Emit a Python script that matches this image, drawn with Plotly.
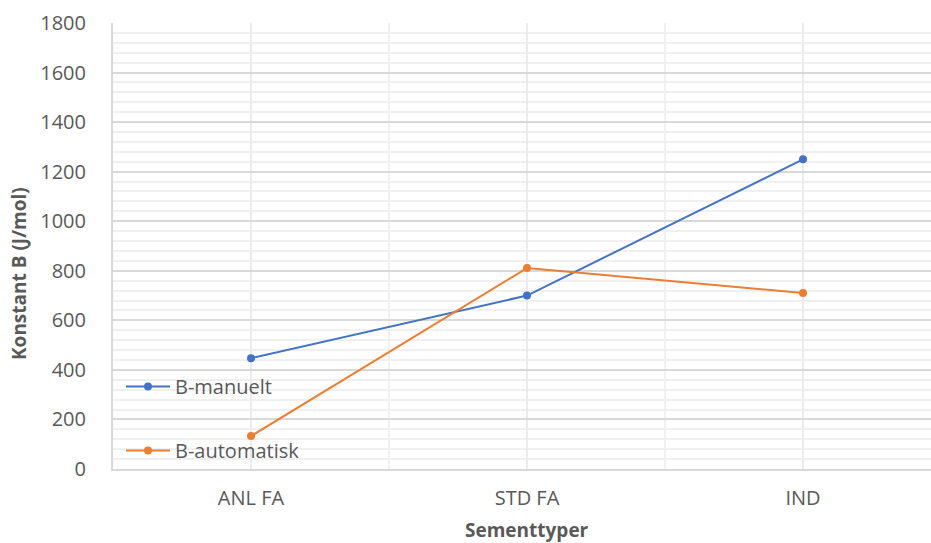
import plotly.graph_objects as go

categories = ["ANL FA", "STD FA", "IND"]
b_manuelt = [447, 700, 1250]
b_automatisk = [133, 811, 710]
series_names = ["B-manuelt", "B-automatisk"]
y_title = "Konstant B (J/mol)"
x_title = "Sementtyper"

font_family = "Open Sans, Lato, Liberation Sans, sans-serif"
txt = "#595959"

W, H = 931, 543
plot_l, plot_t, plot_b = 113, 23, 469
plot_r = W
plot_w = plot_r - plot_l
plot_h = plot_b - plot_t
x_right = -0.5 + plot_w / 276.0  # plot area continues past the right page edge

fig = go.Figure()
fig.add_trace(go.Scatter(x=categories, y=b_manuelt, name=series_names[0], mode="lines+markers",
                         line=dict(color="#4472C4", width=2), marker=dict(size=8, color="#4472C4"),
                         legendgroup="a"))
fig.add_trace(go.Scatter(x=categories, y=b_automatisk, name=series_names[1], mode="lines+markers",
                         line=dict(color="#ED7D31", width=2), marker=dict(size=8, color="#ED7D31"),
                         legendgroup="b"))

for xb in [0.5, 1.5]:
    fig.add_shape(type="line", xref="x", yref="paper", x0=xb, x1=xb, y0=0, y1=1,
                  line=dict(color="#ececec", width=1.5), layer="below")

fig.update_layout(
    width=W, height=H,
    margin=dict(l=plot_l, r=0, t=plot_t, b=H - plot_b, pad=0),
    paper_bgcolor="white", plot_bgcolor="white",
    font=dict(family=font_family, color=txt, size=20),
    showlegend=True,
    legend=dict(x=(121 - plot_l) / plot_w, y=(plot_b - 367) / plot_h, xanchor="left", yanchor="top",
                bgcolor="rgba(0,0,0,0)", font=dict(size=20, color=txt),
                traceorder="grouped", tracegroupgap=35, itemwidth=44),
    xaxis=dict(type="category", range=[-0.5, x_right], showgrid=True, gridcolor="#ececec", gridwidth=1.5,
               showline=True, linecolor="#d9d9d9", linewidth=2, ticks="", ticklabelstandoff=10,
               tickfont=dict(size=20, color=txt), zeroline=False),
    yaxis=dict(range=[0, 1800], dtick=200, showgrid=True, gridcolor="#d9d9d9", gridwidth=1.5,
               minor=dict(dtick=40, showgrid=True, gridcolor="#f0f0f0", gridwidth=1.5),
               showline=True, linecolor="#d9d9d9", linewidth=2, ticks="", ticklabelstandoff=21,
               tickfont=dict(size=20, color=txt), zeroline=False),
    annotations=[
        dict(text="<b>" + y_title + "</b>", x=(19 - plot_l) / plot_w, xref="paper", xanchor="center",
             textangle=-90, y=(plot_b - 274) / plot_h, yref="paper", yanchor="middle",
             showarrow=False, font=dict(size=19, color=txt)),
        dict(text="<b>" + x_title + "</b>", x=(527 - plot_l) / plot_w, xref="paper", xanchor="center",
             y=(plot_b - 530) / plot_h, yref="paper", yanchor="middle",
             showarrow=False, font=dict(size=19, color=txt)),
    ],
)

fig.write_html("out.html", config={"displayModeBar": False},
               post_script="document.body.style.margin='0';document.body.style.overflow='hidden';")
